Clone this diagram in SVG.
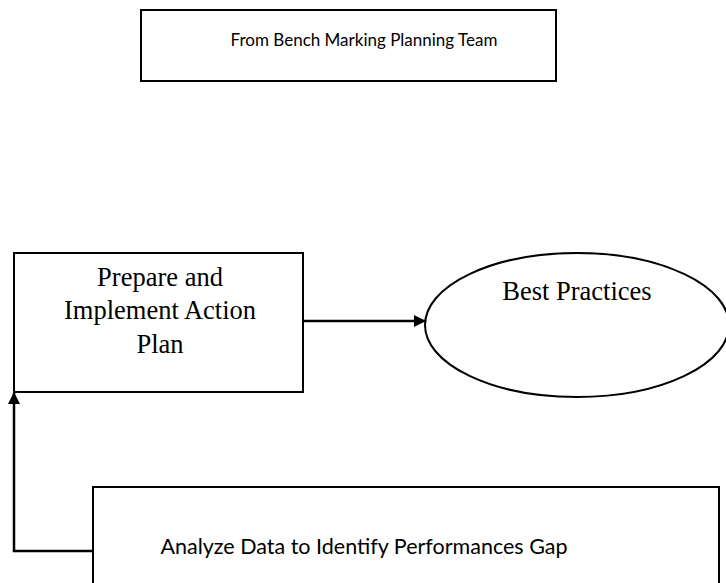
<svg xmlns="http://www.w3.org/2000/svg" width="726" height="583" viewBox="0 0 726 583">
<style>
.box{fill:#fff;stroke:#000;stroke-width:2}
.sans{font-family:"Lato","Open Sans","Liberation Sans",sans-serif;font-size:17px;fill:#000}
.big{font-size:21.5px}
.serif{font-family:"Liberation Serif","Times New Roman",serif;font-size:26.5px;fill:#000}
.conn{fill:none;stroke:#000;stroke-width:2.5}
</style>
<defs>
<marker id="ah" markerWidth="12" markerHeight="12" refX="11" refY="6" orient="auto" markerUnits="userSpaceOnUse" viewBox="0 0 12 12">
<path d="M0,0 L12,6 L0,12 z" fill="#000"/>
</marker>
</defs>
<rect width="726" height="583" fill="#fff"/>
<g id="connectors">
<line class="conn" x1="303" y1="321" x2="425" y2="321" marker-end="url(#ah)"/>
<polyline class="conn" points="93,551 14,551 14,393" marker-end="url(#ah)"/>
</g>
<g id="team">
<rect class="box" x="141" y="10" width="415" height="71"/>
<text class="sans" x="364" y="46" text-anchor="middle">From Bench Marking Planning Team</text>
</g>
<g id="action">
<rect class="box" x="14" y="253" width="289" height="139"/>
<text class="serif" x="160" y="286" text-anchor="middle">Prepare and</text>
<text class="serif" x="160" y="319" text-anchor="middle">Implement Action</text>
<text class="serif" x="160" y="353" text-anchor="middle">Plan</text>
</g>
<g id="best">
<ellipse class="box" cx="577" cy="325" rx="152" ry="72"/>
<text class="serif" x="577" y="300" text-anchor="middle">Best Practices</text>
</g>
<g id="analyze">
<rect class="box" x="93" y="487" width="626" height="110"/>
<text class="sans big" x="364" y="554" text-anchor="middle">Analyze Data to Identify Performances Gap</text>
</g>
</svg>
